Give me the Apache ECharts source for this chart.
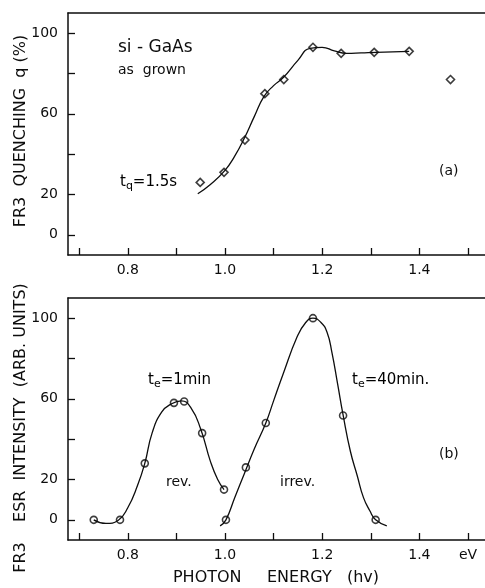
<!DOCTYPE html>
<html>
<head>
<meta charset="utf-8">
<script src="https://cdn.jsdelivr.net/npm/echarts@6/dist/echarts.min.js"></script>
<style>html,body{margin:0;padding:0;background:#fff}#c{width:485px;height:588px}</style>
</head>
<body>
<div id="c"></div>
<script>
// ---- Data ----
// (a) FR3 quenching, measured points (photon energy eV, q %)
const quenchEnergy = [0.949, 0.998, 1.041, 1.082, 1.121, 1.181, 1.239, 1.307, 1.379, 1.464];
const quenchValue  = [26, 31, 47, 70, 77, 93, 90, 90.5, 91, 77];
// (a) drawn guide curve
const quenchCurveE = [0.944, 0.97, 1.0, 1.02, 1.04, 1.06, 1.08, 1.10, 1.12, 1.15, 1.175, 1.2, 1.225, 1.25, 1.28, 1.31, 1.345, 1.379];
const quenchCurveQ = [20.4, 25, 32, 39, 48, 58.5, 68.5, 74, 78, 86.5, 92.5, 93, 91.2, 90, 90.2, 90.5, 90.7, 91];
// (b) ESR intensity, measured points
const esrRevE   = [0.730, 0.784, 0.835, 0.895, 0.916, 0.953, 0.998];
const esrRevI   = [0, 0, 28, 58, 58.7, 43, 15];
const esrIrrE   = [1.002, 1.043, 1.084, 1.181, 1.243, 1.31];
const esrIrrI   = [0, 26, 48, 100, 51.7, 0];
// (b) drawn guide curves
const revCurveE = [0.730, 0.755, 0.78, 0.80, 0.82, 0.835, 0.85, 0.87, 0.89, 0.91, 0.93, 0.95, 0.97, 0.985, 0.998];
const revCurveI = [0, -1.8, -0.3, 6, 17, 28, 43, 53.5, 57.5, 59, 55.5, 45, 29, 20, 15];
const irrCurveE = [0.99, 1.002, 1.02, 1.04, 1.06, 1.084, 1.10, 1.12, 1.148, 1.165, 1.181, 1.197, 1.21, 1.22, 1.232, 1.243, 1.258, 1.272, 1.285, 1.298, 1.31, 1.333];
const irrCurveI = [-3, 0, 11, 23, 35, 48, 59, 72.6, 90.5, 97.5, 100, 98, 93, 83, 67, 52, 34, 22, 11, 4.5, 0, -3];
// Axis ticks / labels
const xTickVals   = [0.7, 0.8, 0.9, 1.0, 1.1, 1.2, 1.3, 1.4, 1.5];
const xLabelValsA = [0.8, 1.0, 1.2, 1.4];
const xLabelValsB = [0.8, 1.0, 1.2, 1.4, 1.5];
const yTickVals   = [0, 20, 40, 60, 80, 100];
const yLabelVals  = [0, 20, 60, 100];

const zip = (a, b) => a.map((v, i) => [v, b[i]]);
const INK = '#0d0d0d';
const FONT = 'DejaVu Sans';

function xAxisMain(gridIndex, labels, lastIsUnit) {
  return {
    type: 'value', gridIndex, min: 0.677, max: 1.535, position: 'bottom',
    axisLine: { show: true, onZero: false, lineStyle: { color: INK, width: 1.5 } },
    axisTick: { show: true, inside: true, length: 7, customValues: xTickVals, lineStyle: { color: INK, width: 1.3 } },
    axisLabel: {
      show: true, customValues: labels, margin: 8, color: INK, fontFamily: FONT, fontSize: 14,
      formatter: v => (lastIsUnit && Math.abs(v - 1.5) < 1e-6) ? 'eV' : v.toFixed(1)
    },
    splitLine: { show: false }
  };
}
function xAxisTop(gridIndex) {
  return {
    type: 'value', gridIndex, min: 0.677, max: 1.535, position: 'top',
    axisLine: { show: true, onZero: false, lineStyle: { color: INK, width: 1.5 } },
    axisTick: { show: false }, axisLabel: { show: false }, splitLine: { show: false }
  };
}
function yAxisMain(gridIndex) {
  return {
    type: 'value', gridIndex, min: -10, max: 110,
    axisLine: { show: true, onZero: false, lineStyle: { color: INK, width: 1.5 } },
    axisTick: { show: true, inside: true, length: 7, customValues: yTickVals, lineStyle: { color: INK, width: 1.3 } },
    axisLabel: { show: true, customValues: yLabelVals, margin: 10, color: INK, fontFamily: FONT, fontSize: 14 },
    splitLine: { show: false }
  };
}

const txt = (x, y, text, size) => ({
  type: 'text', x, y,
  style: { text, fill: INK, font: size + 'px "' + FONT + '"', align: 'left', verticalAlign: 'middle' }
});

const subRich = {
  m: { fontSize: 15, fontFamily: FONT, color: INK },
  s: { fontSize: 11, fontFamily: FONT, color: INK, padding: [9, 0, 0, 0] }
};

const curveStyle = { color: INK, width: 1.3 };

const chart = echarts.init(document.getElementById('c'), null, { renderer: 'canvas' });
chart.setOption({
  animation: false,
  backgroundColor: '#fff',
  grid: [
    { left: 68, right: 0, top: 13, height: 242 },
    { left: 68, right: 0, top: 298, height: 242 }
  ],
  xAxis: [xAxisMain(0, xLabelValsA, false), xAxisTop(0), xAxisMain(1, xLabelValsB, true), xAxisTop(1)],
  yAxis: [yAxisMain(0), yAxisMain(1)],
  series: [
    { type: 'line', xAxisIndex: 0, yAxisIndex: 0, data: zip(quenchCurveE, quenchCurveQ), smooth: 0.5,
      showSymbol: false, lineStyle: curveStyle },
    { type: 'scatter', xAxisIndex: 0, yAxisIndex: 0, data: zip(quenchEnergy, quenchValue), symbol: 'diamond', symbolSize: [8, 8],
      itemStyle: { color: '#fff', borderColor: INK, borderWidth: 1.6 } },
    { type: 'line', xAxisIndex: 2, yAxisIndex: 1, data: zip(revCurveE, revCurveI), smooth: 0.5,
      showSymbol: false, lineStyle: curveStyle },
    { type: 'line', xAxisIndex: 2, yAxisIndex: 1, data: zip(irrCurveE, irrCurveI), smooth: 0.5,
      showSymbol: false, lineStyle: curveStyle },
    { type: 'scatter', xAxisIndex: 2, yAxisIndex: 1, data: zip(esrRevE, esrRevI).concat(zip(esrIrrE, esrIrrI)),
      symbol: 'circle', symbolSize: 7, itemStyle: { color: '#fff', borderColor: INK, borderWidth: 1.6 } }
  ],
  graphic: [
    { type: 'text', x: 21, y: 131, rotation: Math.PI / 2,
      style: { text: 'FR3  QUENCHING  q (%)', fill: INK, font: '16px "' + FONT + '"', align: 'center', verticalAlign: 'middle' } },
    { type: 'text', x: 21, y: 428, rotation: Math.PI / 2,
      style: { text: 'FR3    ESR  INTENSITY  (ARB. UNITS)', fill: INK, font: '16px "' + FONT + '"', align: 'center', verticalAlign: 'middle' } },
    { type: 'text', x: 276, y: 578,
      style: { text: 'PHOTON     ENERGY   (hv)', fill: INK, font: '16px "' + FONT + '"', align: 'center', verticalAlign: 'middle' } },
    txt(118, 48, 'si - GaAs', 17),
    txt(118, 70, 'as  grown', 14),
    { type: 'text', x: 120, y: 182, style: { text: '{m|t}{s|q}{m|=1.5s}', rich: subRich, verticalAlign: 'middle', align: 'left' } },
    txt(439, 171, '(a)', 14),
    { type: 'text', x: 148, y: 380, style: { text: '{m|t}{s|e}{m|=1min}', rich: subRich, verticalAlign: 'middle', align: 'left' } },
    txt(166, 482, 'rev.', 14),
    txt(280, 482, 'irrev.', 14),
    { type: 'text', x: 352, y: 380, style: { text: '{m|t}{s|e}{m|=40min.}', rich: subRich, verticalAlign: 'middle', align: 'left' } },
    txt(439, 454, '(b)', 14)
  ]
});
</script>
</body>
</html>
